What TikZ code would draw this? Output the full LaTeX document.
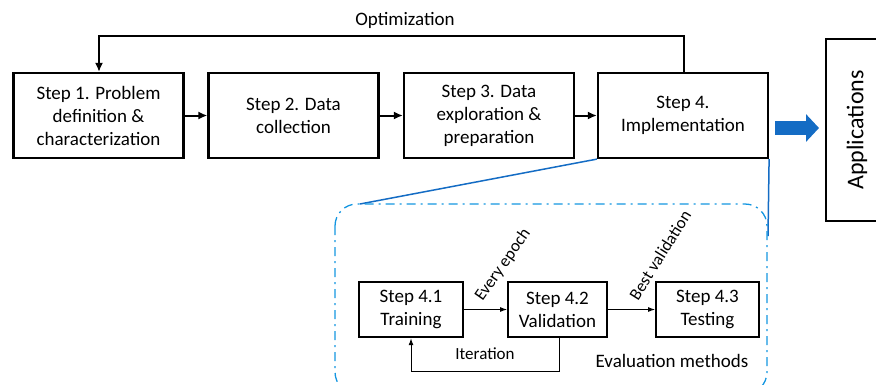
\documentclass[tikz,border=0pt]{standalone}
\usepackage{fontspec}
\setmainfont{Carlito}
\usetikzlibrary{arrows.meta}
\definecolor{solidblue}{RGB}{20,108,196}
\definecolor{dashblue}{RGB}{20,150,225}
\begin{document}
\begin{tikzpicture}[x=1pt,y=-1pt,
  bigbox/.style={draw, line width=2.2pt, minimum width=170pt, minimum height=85pt, align=center, font=\fontsize{19}{23}\selectfont, inner sep=0pt},
  smallbox/.style={draw, line width=1.8pt, minimum height=55pt, align=center, font=\fontsize{19}{23}\selectfont, inner sep=0pt},
  arr/.style={-{Latex[length=9pt,width=8pt]}, line width=2pt},
  thinarr/.style={-{Latex[length=7pt,width=5pt]}, line width=1pt},
  lbl/.style={font=\fontsize{17}{20}\selectfont, inner sep=0pt}]
\useasboundingbox (0,0) rectangle (876,384);
\node[bigbox] (s1) at (98.5,115.5) {Step 1. Problem\\definition \&\\characterization};
\node[bigbox] (s2) at (293.5,115.5) {Step 2. Data\\collection};
\node[bigbox] (s3) at (489,115.5) {Step 3. Data\\exploration \&\\preparation};
\node[bigbox] (s4) at (683,115.5) {Step 4.\\Implementation};
\node[draw, line width=2.2pt, minimum width=62pt, minimum height=182pt, inner sep=0pt] (app) at (857,130) {};
\node[rotate=90, font=\fontsize{24}{28}\selectfont] (apptext) at (857,130) {Applications};
\draw[arr] (s1) -- (s2);
\draw[arr] (s2) -- (s3);
\draw[arr] (s3) -- (s4);
\coordinate (optR) at (684,36);
\coordinate (optL) at (99,36);
\draw[arr] (s4.north -| optR) -- (optR) -- (optL) -- (s1.north -| optL);
\node[lbl, font=\fontsize{19}{22}\selectfont] (opt) at (405,20) {Optimization};
% blue arrow
\coordinate (ba1) at (775,128);
\coordinate (ba2) at (819,128);
\draw[solidblue, line width=14pt, -{Triangle[length=13pt,width=27pt]}] (ba1) -- (ba2);
% zoom lines
\coordinate (zl) at (360,204);
\coordinate (zr) at (768,236);
\draw[solidblue, line width=1.5pt] (s4.south west) -- (zl);
\draw[solidblue, line width=1.5pt] (s4.south east) -- (zr);
% dash-dot region
\draw[dashblue, line width=1.3pt, rounded corners=22pt, dash pattern=on 9pt off 5pt on 2pt off 5pt] (335,204) rectangle (767,394);
% inner boxes
\node[smallbox, minimum width=104pt, line width=2.4pt] (t1) at (411,309.5) {Step 4.1\\Training};
\node[smallbox, minimum width=99pt] (t2) at (557.5,309.5) {Step 4.2\\Validation};
\node[smallbox, minimum width=103pt] (t3) at (707.5,309.5) {Step 4.3\\Testing};
\draw[thinarr] (t1) -- (t2);
\draw[thinarr] (t2) -- (t3);
\coordinate (itR) at (559,371);
\coordinate (itL) at (411,371);
\draw[thinarr] (t2.south -| itR) -- (itR) -- (itL) -- (t1.south);
\node[lbl] (itlbl) at (485,354) {Iteration};
\node[lbl, rotate=55] (every) at (503,265) {Every epoch};
\node[lbl, rotate=58] (best) at (660,255) {Best validation};
\node[lbl, font=\fontsize{19}{22}\selectfont] (evm) at (672,361) {Evaluation methods};
\end{tikzpicture}
\end{document}
